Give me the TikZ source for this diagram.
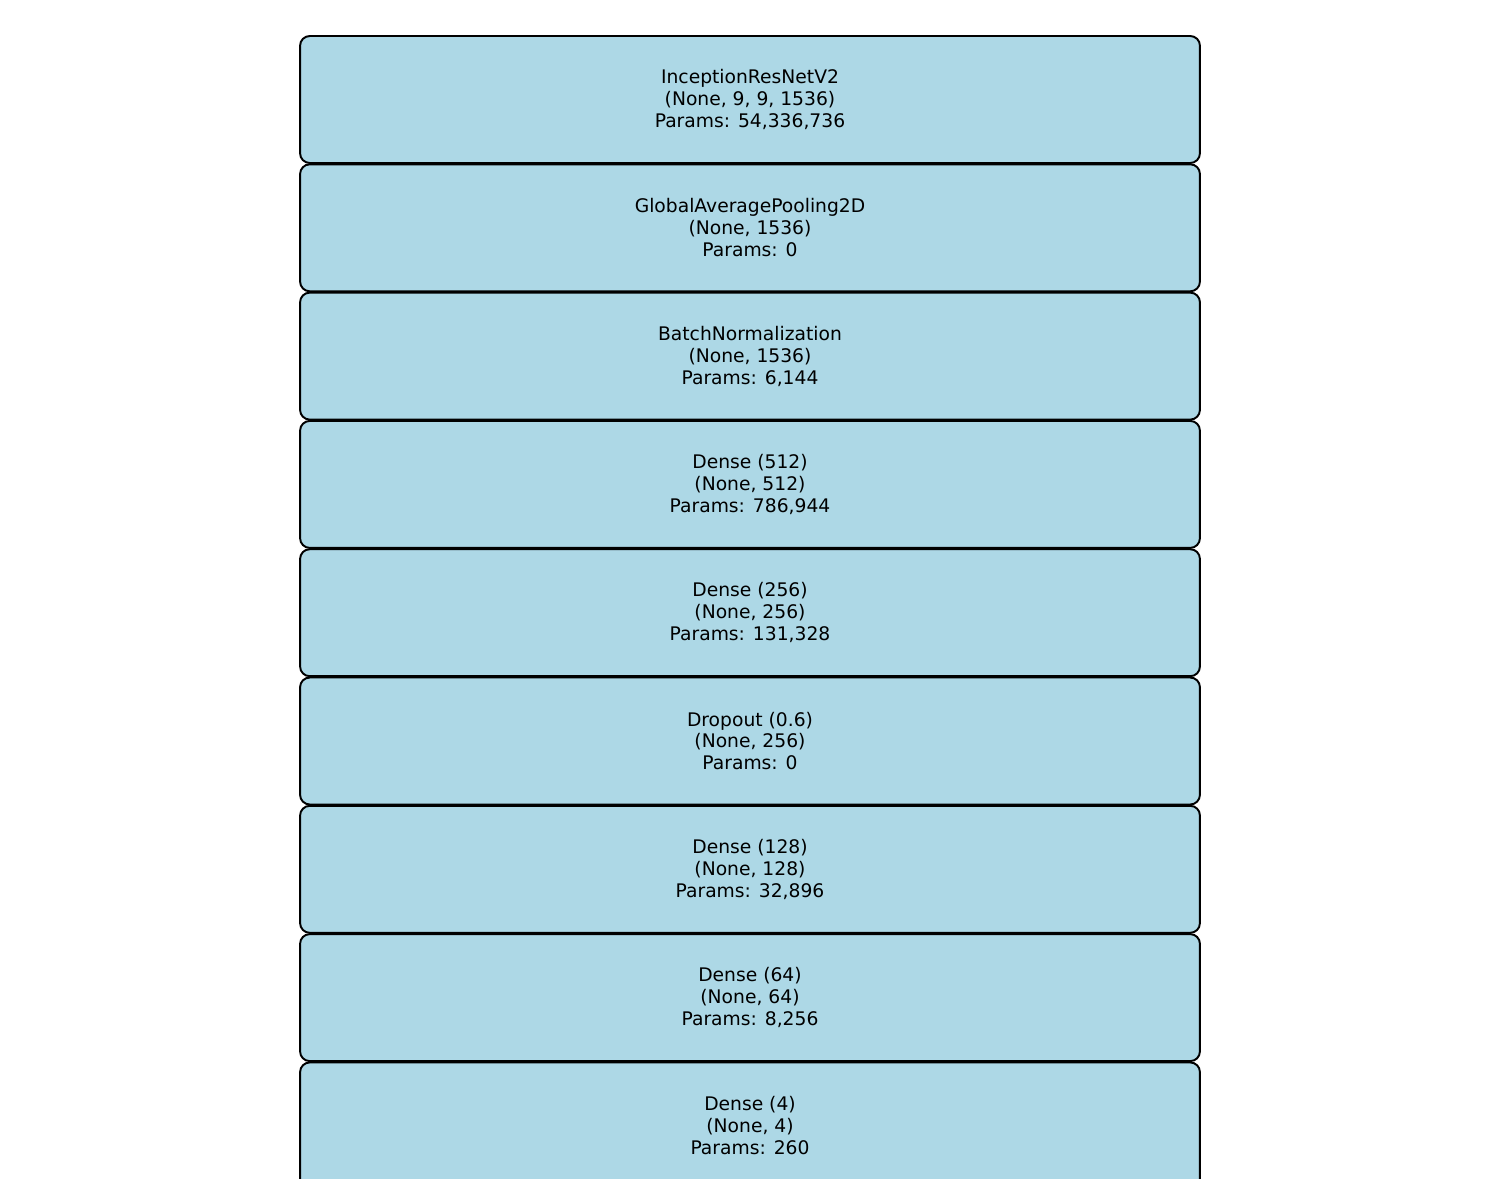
\documentclass[tikz,border=0pt]{standalone}
\usepackage{fontspec}
\setmainfont{DejaVu Sans}
\definecolor{layerblue}{HTML}{ADD8E6}
\begin{document}
\begin{tikzpicture}[x=0.02cm, y=-0.02cm,
    layer/.style={draw=black, line width=1.1pt, fill=layerblue, rounded corners=5.5pt,
        minimum width=18cm, minimum height=2.54cm, align=center,
        font=\fontsize{10.65}{12.5}\selectfont}]
    \useasboundingbox (0,0) rectangle (1500,1200);
    \begin{scope}
    \clip (0,0) rectangle (1500,1178);
    \node[layer] (incep) at (750,99.5) {InceptionResNetV2\\(None, 9, 9, 1536)\\Params: 54,336,736};
    \node[layer] (gap) at (750,227.8) {GlobalAveragePooling2D\\(None, 1536)\\Params: 0};
    \node[layer] (bnorm) at (750,356.1) {BatchNormalization\\(None, 1536)\\Params: 6,144};
    \node[layer] (dense512) at (750,484.4) {Dense (512)\\(None, 512)\\Params: 786,944};
    \node[layer] (dense256) at (750,612.7) {Dense (256)\\(None, 256)\\Params: 131,328};
    \node[layer] (drop) at (750,741.0) {Dropout (0.6)\\(None, 256)\\Params: 0};
    \node[layer] (dense128) at (750,869.3) {Dense (128)\\(None, 128)\\Params: 32,896};
    \node[layer] (dense64) at (750,997.6) {Dense (64)\\(None, 64)\\Params: 8,256};
    \node[layer] (dense4) at (750,1125.9) {Dense (4)\\(None, 4)\\Params: 260};
    \end{scope}
\end{tikzpicture}
\end{document}
